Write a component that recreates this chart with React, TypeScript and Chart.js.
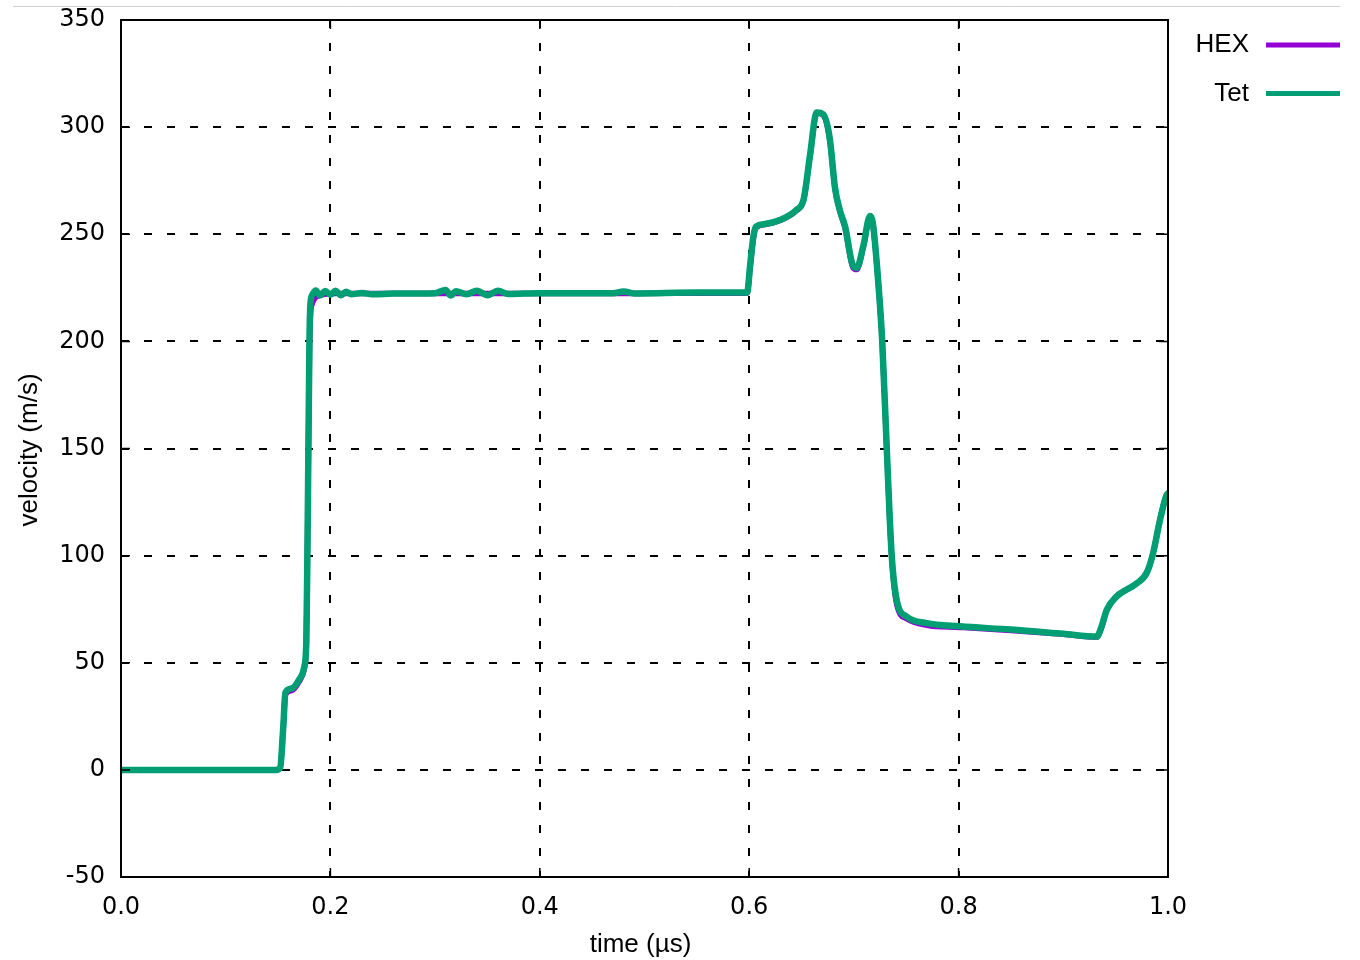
import { useEffect, useRef } from "react";
import { Chart, registerables } from "chart.js";

Chart.register(...registerables);

const times = [
  0, 0.05, 0.1, 0.148, 0.152, 0.155, 0.157, 0.163, 0.17, 0.175, 0.177, 0.178, 0.179, 0.18, 0.181, 0.183,
  0.186, 0.19, 0.195, 0.2, 0.205, 0.21, 0.215, 0.22, 0.23, 0.24, 0.26, 0.3, 0.31, 0.315, 0.32, 0.33, 0.34,
  0.35, 0.36, 0.37, 0.4, 0.47, 0.48, 0.49, 0.55, 0.598, 0.601, 0.604, 0.6065, 0.615, 0.63, 0.645, 0.652,
  0.658, 0.6645, 0.6707, 0.677, 0.682, 0.687, 0.6915, 0.699, 0.7027, 0.709, 0.7154, 0.718, 0.722, 0.727,
  0.7313, 0.736, 0.741, 0.7504, 0.7695, 0.801, 0.85, 0.9, 0.932, 0.9366, 0.9415, 0.951, 0.97, 0.9797,
  0.9857, 0.9924, 0.9984, 1.0,
];

const hexVelocity = [
  0, 0, 0, 0, 1, 20, 35, 37, 41, 47, 58, 98, 148, 196, 212, 218,
  220.5, 221.5, 222, 222.2, 222.3, 222.3, 222.3, 222.3, 222.3, 222.3, 222.3, 222.3, 222.3, 222.3, 222.3, 222.3, 222.3,
  222.3, 222.3, 222.3, 222.3, 222.4, 222.4, 222.4, 222.5, 222.5, 235, 248, 253, 254.5, 256.5, 261, 266,
  286, 306.5, 305.5, 294, 271, 260, 253, 234.5, 233.5, 244, 258, 255, 235, 200,
  150, 100, 77, 70.5, 67.5, 66.5, 65, 63.3, 62, 66.5, 74.5, 81, 87, 92,
  101, 117, 128, 129,
];

const tetVelocity = [
  0, 0, 0, 0, 1, 20, 36, 38, 42, 48, 60, 100, 150, 200, 218, 222,
  223.8, 221.4, 223.5, 221.8, 223.6, 221.5, 223.2, 222, 222.6, 222, 222.3, 222.5, 224, 221.4, 223.4, 222, 223.6,
  221.5, 223.6, 222.1, 222.5, 222.5, 223.3, 222.4, 222.8, 222.8, 236, 249, 253.5, 254.8, 256.8, 261.3, 266.3,
  286.5, 306.8, 306, 294.5, 271.5, 260.5, 253.8, 235.5, 234.3, 244.5, 258.5, 255.5, 235.5, 200.5,
  151, 101, 79, 71.5, 68.5, 67, 65.5, 63.5, 62.2, 67, 74.7, 81, 87, 92,
  101, 116.7, 128, 129,
];

const seriesLabels = ["HEX", "Tet"];
const seriesColors = ["#9400d3", "#009e73"];
const xTicks = [0, 0.2, 0.4, 0.6, 0.8, 1.0];
const yTicks = [-50, 0, 50, 100, 150, 200, 250, 300, 350];
const xTitle = "time (\u00b5s)";
const yTitle = "velocity (m/s)";

const tickFont = { family: "'DejaVu Sans', sans-serif", size: 24 };
const titleFont = "26px 'Liberation Sans', Arial, sans-serif";
const legendFont = "26px 'Liberation Sans', Arial, sans-serif";

const framePlugin = {
  id: "frame",
  afterDraw(chart: any) {
    const { ctx, chartArea: a } = chart;
    const xs = chart.scales.x;
    const ys = chart.scales.y;
    ctx.save();
    // faint top rule
    ctx.strokeStyle = "#d0d0d0";
    ctx.lineWidth = 1;
    ctx.beginPath();
    ctx.moveTo(13, 6.5);
    ctx.lineTo(1340, 6.5);
    ctx.stroke();
    // border
    ctx.strokeStyle = "#000";
    ctx.lineWidth = 2;
    ctx.strokeRect(a.left, a.top, a.right - a.left, a.bottom - a.top);
    // inward tick marks
    ctx.lineWidth = 1.5;
    const tl = 9;
    ctx.beginPath();
    for (const v of xTicks) {
      const px = xs.getPixelForValue(v);
      ctx.moveTo(px, a.bottom);
      ctx.lineTo(px, a.bottom - tl);
      ctx.moveTo(px, a.top);
      ctx.lineTo(px, a.top + tl);
    }
    for (const v of yTicks) {
      const py = ys.getPixelForValue(v);
      ctx.moveTo(a.left, py);
      ctx.lineTo(a.left + tl, py);
      ctx.moveTo(a.right, py);
      ctx.lineTo(a.right - tl, py);
    }
    ctx.stroke();
    // axis titles
    ctx.fillStyle = "#000";
    ctx.font = titleFont;
    ctx.textAlign = "center";
    ctx.textBaseline = "middle";
    ctx.fillText(xTitle, (a.left + a.right) / 2 - 4, 945);
    ctx.save();
    ctx.translate(30, 450);
    ctx.rotate(-Math.PI / 2);
    ctx.fillText(yTitle, 0, 0);
    ctx.restore();
    // legend
    ctx.font = legendFont;
    ctx.textAlign = "right";
    chart.data.datasets.forEach((ds: any, i: number) => {
      const y = 45 + i * 48.5;
      ctx.fillStyle = "#000";
      ctx.fillText(ds.label, 1249, y);
      ctx.strokeStyle = ds.borderColor;
      ctx.lineWidth = 5;
      ctx.beginPath();
      ctx.moveTo(1266, y);
      ctx.lineTo(1340, y);
      ctx.stroke();
    });
    ctx.restore();
  },
};

export default function App() {
  const ref = useRef<HTMLCanvasElement | null>(null);

  useEffect(() => {
    if (!ref.current) return;
    const series = [hexVelocity, tetVelocity];
    const chart = new Chart(ref.current, {
      type: "line",
      data: {
        datasets: series.map((vals, i) => ({
          label: seriesLabels[i],
          data: times.map((t, j) => ({ x: t, y: vals[j] })),
          borderColor: seriesColors[i],
          backgroundColor: seriesColors[i],
          borderWidth: i === 0 ? 5.5 : 6.5,
          order: i === 0 ? 1 : 0,
          pointRadius: 0,
          cubicInterpolationMode: "monotone",
          fill: false,
          borderJoinStyle: "round",
          borderCapStyle: "round",
        })),
      },
      options: {
        animation: false,
        responsive: false,
        devicePixelRatio: 1,
        layout: { padding: { top: 20, right: 192, left: 0, bottom: 0 } },
        plugins: { legend: { display: false }, tooltip: { enabled: false } },
        scales: {
          x: {
            type: "linear",
            min: 0,
            max: 1,
            afterBuildTicks: (s: any) => {
              s.ticks = xTicks.map((v) => ({ value: v }));
            },
            afterFit: (s: any) => {
              s.height = 83;
              s.paddingLeft = 0;
              s.paddingRight = 0;
            },
            ticks: {
              callback: (v: any) => Number(v).toFixed(1),
              font: tickFont,
              color: "#000",
              padding: 16,
              maxRotation: 0,
            },
            grid: {
              color: (c: any) =>
                c.tick && (c.tick.value === 0 || c.tick.value === 1) ? "rgba(0,0,0,0)" : "#000",
              lineWidth: 2,
              drawTicks: false,
            },
            border: { display: false, dash: [8, 15] },
          },
          y: {
            type: "linear",
            min: -50,
            max: 350,
            afterBuildTicks: (s: any) => {
              s.ticks = yTicks.map((v) => ({ value: v }));
            },
            afterFit: (s: any) => {
              s.width = 121;
              s.paddingTop = 0;
              s.paddingBottom = 0;
            },
            ticks: {
              font: tickFont,
              color: "#000",
              padding: 16,
            },
            grid: {
              color: (c: any) =>
                c.tick && (c.tick.value === -50 || c.tick.value === 350) ? "rgba(0,0,0,0)" : "#000",
              lineWidth: 2,
              drawTicks: false,
            },
            border: { display: false, dash: [8, 15] },
          },
        },
      },
      plugins: [framePlugin],
    } as any);
    return () => chart.destroy();
  }, []);

  return (
    <div style={{ position: "absolute", left: 0, top: 0, width: 1360, height: 960, background: "#fff" }}>
      <canvas ref={ref} width={1360} height={960} style={{ width: 1360, height: 960, display: "block" }} />
    </div>
  );
}
